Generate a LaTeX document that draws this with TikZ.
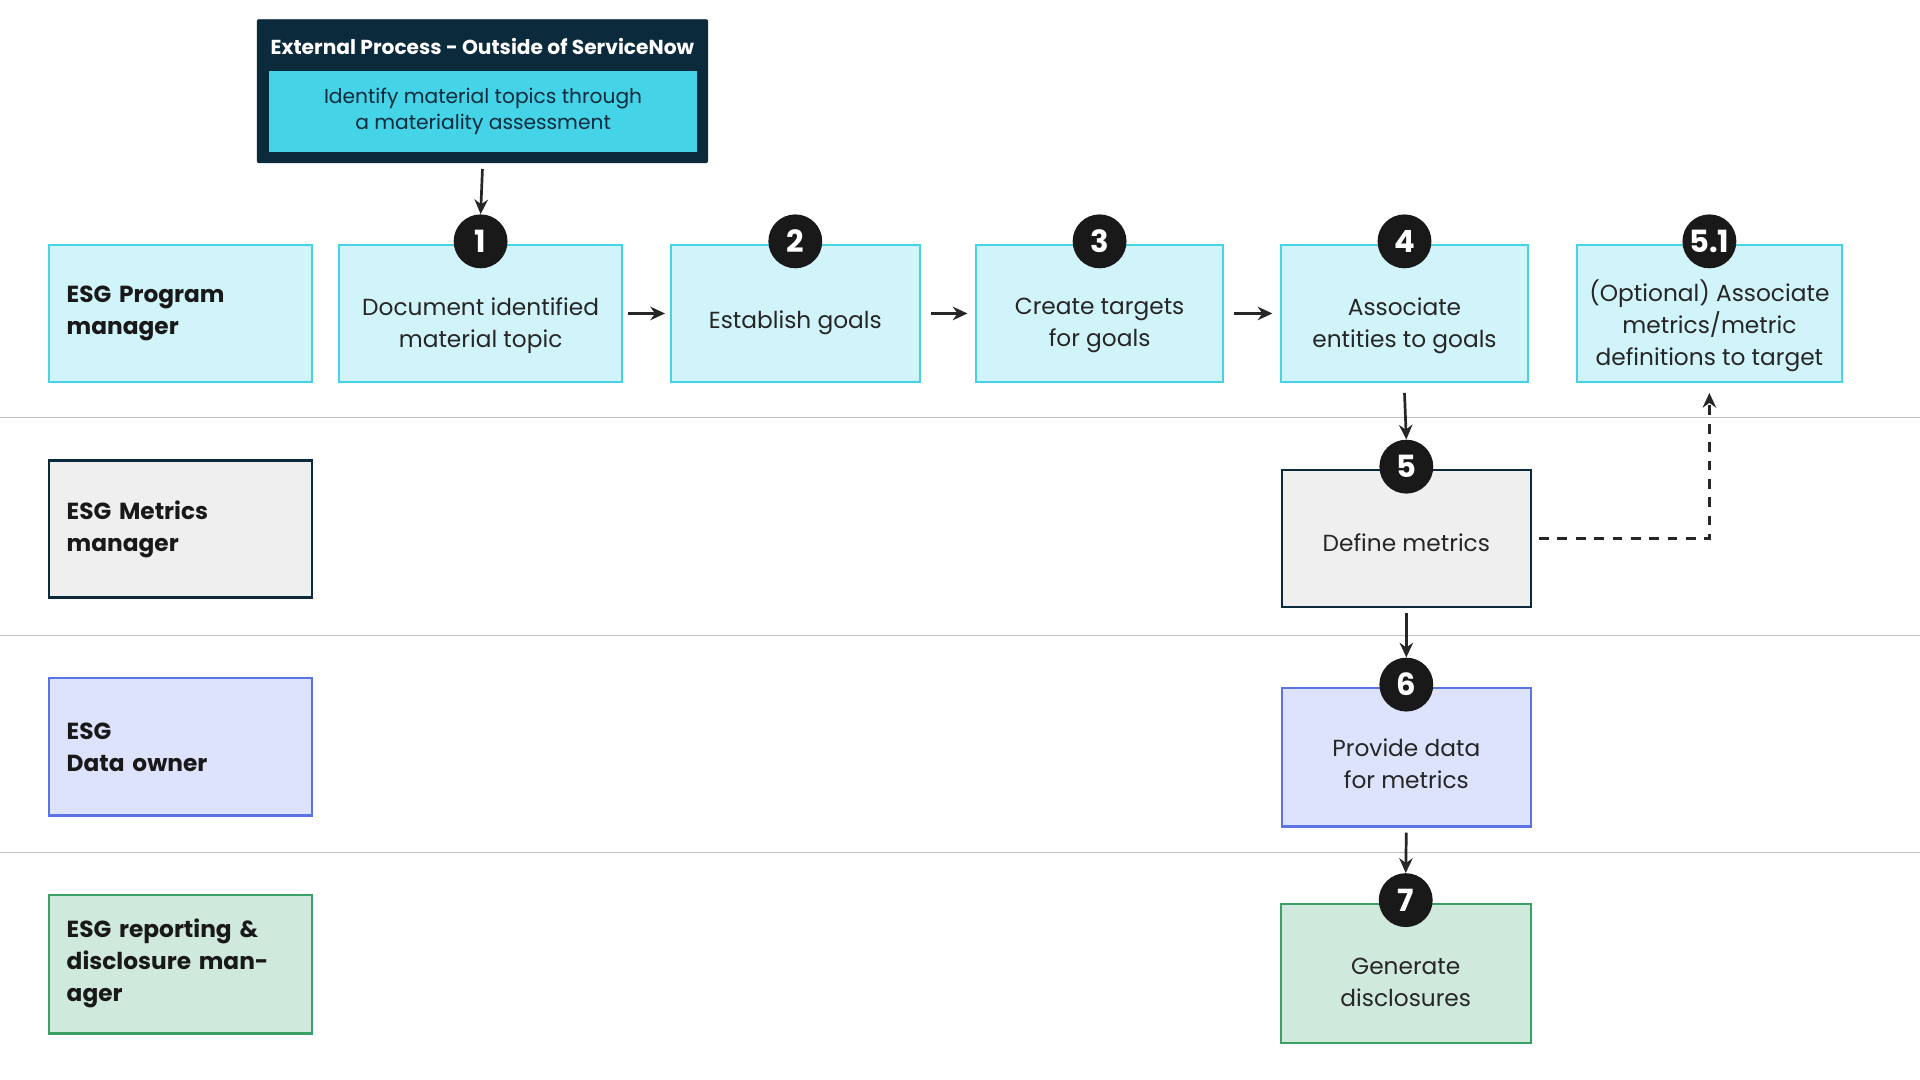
\documentclass[tikz,border=0pt]{standalone}
\usepackage{fontspec}
\setmainfont{Poppins}
\usetikzlibrary{arrows.meta}
\definecolor{navy}{HTML}{0B2A3C}
\definecolor{cyanA}{HTML}{45D3E8}
\definecolor{cyanL}{HTML}{D0F4F9}
\definecolor{grayL}{HTML}{EFEFEF}
\definecolor{lavL}{HTML}{DDE3FC}
\definecolor{lavD}{HTML}{5A73E6}
\definecolor{mintL}{HTML}{CFEADC}
\definecolor{mintD}{HTML}{3AA066}
\tikzset{
  box/.style={draw, line width=1.8pt, inner sep=0pt},
  prog/.style={box, fill=cyanL, draw=cyanA},
  metr/.style={box, fill=grayL, draw=navy},
  data/.style={box, fill=lavL, draw=lavD},
  disc/.style={box, fill=mintL, draw=mintD},
  txt/.style={align=center, font=\fontsize{19}{26}\selectfont, text=black!85},
  role/.style={align=left, font=\fontsize{19}{26}\selectfont\bfseries, text width=195pt, inner sep=0pt, text=black!90},
  badge/.style={circle, fill=black!90, text=white, minimum size=44pt, inner sep=0pt, font=\fontsize{25}{25}\selectfont\bfseries},
  flow/.style={-{Stealth[length=12pt,width=11pt]}, line width=2.2pt, black!85},
  lane/.style={draw=black!25, line width=1pt}
}
\begin{document}
\begin{tikzpicture}[x=1pt,y=1pt]
\useasboundingbox (0,0) rectangle (1568,-882);
% lanes
\draw[lane] (0,-341) -- (1568,-341);
\draw[lane] (0,-519) -- (1568,-519);
\draw[lane] (0,-696) -- (1568,-696);
% external process
\filldraw[navy, rounded corners=1pt] (210,-16) rectangle (578,-133);
\node[text=white, font=\fontsize{16.5}{20}\selectfont\bfseries] (exttitle) at (394,-38) {External Process - Outside of ServiceNow};
\node[fill=cyanA, minimum width=349pt, minimum height=66pt, align=center, font=\fontsize{16.5}{21}\selectfont, text=navy] (ext) at (394.5,-91) {Identify material topics through\\a materiality assessment};
\coordinate (extout) at (394,-138);
% role boxes
\draw[prog] (40,-200) rectangle (255,-312);
\node[role] (r1) at (152,-256) {ESG Program\\manager};
\draw[metr] (40,-376) rectangle (255,-488);
\node[role] (r2) at (152,-432) {ESG Metrics\\manager};
\draw[data] (40,-554) rectangle (255,-666);
\node[role] (r3) at (152,-610) {ESG\\Data owner};
\draw[disc] (40,-731) rectangle (255,-844);
\node[role] (r4) at (152,-787) {ESG reporting \&\\disclosure manager};
% steps
\node[prog, minimum width=231pt, minimum height=112pt] (s1) at (392.5,-256) {};
\node[prog, minimum width=203pt, minimum height=112pt] (s2) at (649.5,-256) {};
\node[prog, minimum width=202pt, minimum height=112pt] (s3) at (898,-256) {};
\node[prog, minimum width=202pt, minimum height=112pt] (s4) at (1147,-256) {};
\node[prog, minimum width=216pt, minimum height=112pt] (s51) at (1396,-256) {};
\node[metr, minimum width=203pt, minimum height=112pt] (s5) at (1148.5,-440) {};
\node[data, minimum width=203pt, minimum height=113pt] (s6) at (1148.5,-618.5) {};
\node[disc, minimum width=204pt, minimum height=114pt] (s7) at (1148,-795) {};
\node[txt] (t1) at ([yshift=-10pt]s1.center) {Document identified\\material topic};
\node[txt] (t2) at ([yshift=-8pt]s2.center) {Establish goals};
\node[txt] (t3) at ([yshift=-10pt]s3.center) {Create targets\\for goals};
\node[txt] (t4) at ([yshift=-10pt]s4.center) {Associate\\entities to goals};
\node[txt] (t51) at ([yshift=-10pt]s51.center) {(Optional) Associate\\metrics/metric\\definitions to target};
\node[txt] (t5) at ([yshift=-3pt]s5.center) {Define metrics};
\node[txt] (t6) at ([yshift=-5pt]s6.center) {Provide data\\for metrics};
\node[txt] (t7) at ([yshift=-7pt]s7.center) {Generate\\disclosures};
% badges
\foreach \s/\t in {s1/1,s2/2,s3/3,s4/4,s51/5.1,s5/5,s6/6,s7/7}
  \node[badge] (b\s) at ([yshift=2pt]\s.north) {\t};
% connectors
\draw[flow] (extout) -- (bs1.north);
\draw[flow] ([xshift=4pt]s1.east) -- ([xshift=-4pt]s2.west);
\draw[flow] ([xshift=8pt]s2.east) -- ([xshift=-6pt]s3.west);
\draw[flow] ([xshift=8pt]s3.east) -- ([xshift=-6pt]s4.west);
\draw[flow] ([yshift=-8pt]s4.south) -- (bs5.north);
\draw[flow] ([yshift=-4pt]s5.south) -- (bs6.north);
\draw[flow] ([yshift=-4pt]s6.south) -- (bs7.north);
\draw[flow, dashed, dash pattern=on 8pt off 7pt] ([xshift=6pt]s5.east) -| ([yshift=-8pt]s51.south);
\end{tikzpicture}
\end{document}
